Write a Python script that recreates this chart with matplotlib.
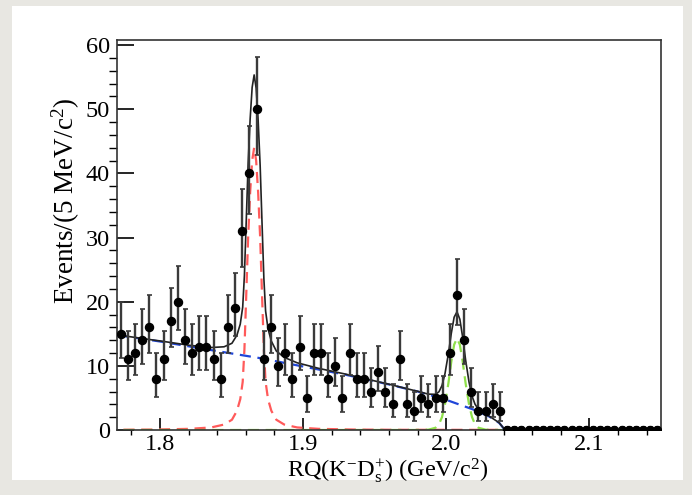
import numpy as np
import matplotlib.pyplot as plt
from matplotlib.patches import Rectangle
from matplotlib.ticker import MultipleLocator

plt.rcParams['font.family'] = ['Liberation Serif', 'DejaVu Serif']
plt.rcParams['mathtext.fontset'] = 'custom'
plt.rcParams['mathtext.rm'] = 'Liberation Serif'
plt.rcParams['mathtext.it'] = 'Liberation Serif:italic'

# histogram: 5 MeV bins from 1.77 to 2.15 GeV
bin_lo = 1.77
bin_w = 0.005
counts = [15, 11, 12, 14, 16, 8, 11, 17, 20, 14,
          12, 13, 13, 11, 8, 16, 19, 31, 40, 50,
          11, 16, 10, 12, 8, 13, 5, 12, 12, 8,
          10, 5, 12, 8, 8, 6, 9, 6, 4, 11,
          4, 3, 5, 4, 5, 5, 12, 21, 14, 6,
          3, 3, 4, 3] + [0] * 22

# fit components
bg_x = [1.77, 1.80, 1.84, 1.87, 1.90, 1.93, 1.96, 1.98, 2.00, 2.02, 2.03, 2.037, 2.041, 2.15]
bg_y = [14.8, 13.8, 12.3, 11.2, 9.9, 8.6, 7.1, 6.0, 4.7, 3.1, 2.1, 1.1, 0.0, 0.0]

red_mean = 1.8658
red_dx = [0, .0014, .0028, .0042, .0056, .0068, .008, .0097, .012, .0155, .021, .03, .045, .07, .1, .4]
red_y = [44, 42, 37, 30, 20.5, 12.5, 7.5, 4.8, 3.0, 1.6, 0.85, 0.4, 0.18, 0.07, 0.03, 0.0]

green_mean = 2.0075
green_dx = [0, .002, .004, .006, .0084, .0105, .0126, .015, .02, .03, .4]
green_y = [14.3, 13.3, 10.6, 7.3, 4.0, 2.0, 0.9, 0.35, 0.05, 0.0, 0.0]

counts = np.array(counts, dtype=float)
centers = bin_lo + bin_w * (np.arange(len(counts)) + 0.5)
# poisson-like error bars, the empty bins only show a stub
err_lo = np.where(counts > 0, np.sqrt(np.clip(counts - 0.25, 0, None)), 0)
err_hi = np.where(counts > 0, np.sqrt(counts + 0.75) + 1, 0.45)


def sym(mean, dx, y):
    dx = np.array(dx)
    y = np.array(y)
    return (np.concatenate([mean - dx[::-1], mean + dx[1:]]),
            np.concatenate([y[::-1], y[1:]]))


red_x, red_v = sym(red_mean, red_dx, red_y)
grn_x, grn_v = sym(green_mean, green_dx, green_y)
grid = np.unique(np.concatenate([bg_x, red_x, grn_x]))
grid = grid[(grid >= 1.77) & (grid <= 2.15)]
total = (np.interp(grid, bg_x, bg_y) + np.interp(grid, red_x, red_v)
         + np.interp(grid, grn_x, grn_v))

fig = plt.figure(figsize=(6.92, 4.95), dpi=100)
fig.patch.set_facecolor('#e8e7e2')
fig.patches.append(Rectangle((12 / 692, 15 / 495), 671 / 692, 474 / 495,
                             transform=fig.transFigure, facecolor='white',
                             edgecolor='none', zorder=-5))

ax = fig.add_axes([117 / 692, 65 / 495, 544 / 692, 390 / 495])
ax.set_zorder(2)
ax.set_xlim(1.77, 2.15)
ax.set_ylim(0, 60.8)

ax.plot(red_x, red_v, color='#ff5a5a', lw=1.6, ls=(0, (5, 3)), zorder=2)
ax.plot(grn_x, grn_v, color='#8fe04a', lw=1.6, ls=(0, (5, 3)), zorder=2)
ax.plot(bg_x, bg_y, color='#2046d8', lw=1.6, ls=(0, (5, 3)), zorder=3)
ax.plot(grid, total, color='#222222', lw=1.2, zorder=4)

ax.errorbar(centers, counts, yerr=[err_lo, err_hi], fmt='o', color='black',
            ecolor='#3a3a3a', elinewidth=1.7, capsize=1.8, capthick=1.2,
            markersize=5.8, zorder=5, clip_on=True)

ax.xaxis.set_major_locator(MultipleLocator(0.1))
ax.xaxis.set_minor_locator(MultipleLocator(0.02))
ax.yaxis.set_major_locator(MultipleLocator(10))
ax.yaxis.set_minor_locator(MultipleLocator(2))
ax.tick_params(direction='in', top=False, right=False, labelsize=17.5)
ax.tick_params(axis='y', which='major', length=12, width=1.2, pad=5)
ax.tick_params(axis='y', which='minor', length=6, width=1.0)
ax.tick_params(axis='x', which='major', length=8.5, width=1.2, pad=3)
ax.tick_params(axis='x', which='minor', length=3.6, width=1.0)
ax.set_xticks([1.8, 1.9, 2.0, 2.1])
ax.set_xticklabels(['1.8', '1.9', '2.0', '2.1'])
for s in ax.spines.values():
    s.set_linewidth(1.2)
    s.set_color('#333333')

fig.text(388 / 692, 1 - 471 / 495,
         r'RQ(K$^{-}$D$_{\mathrm{s}}^{+}$) (GeV/c$^{2}$)',
         ha='center', va='center', fontsize=17.5)
fig.text(66 / 692, 1 - 98 / 495, r'Events/(5 MeV/c$^{2}$)',
         rotation=90, ha='center', va='top', fontsize=19.5)

fig.savefig('out.png', dpi=100, facecolor=fig.get_facecolor())
